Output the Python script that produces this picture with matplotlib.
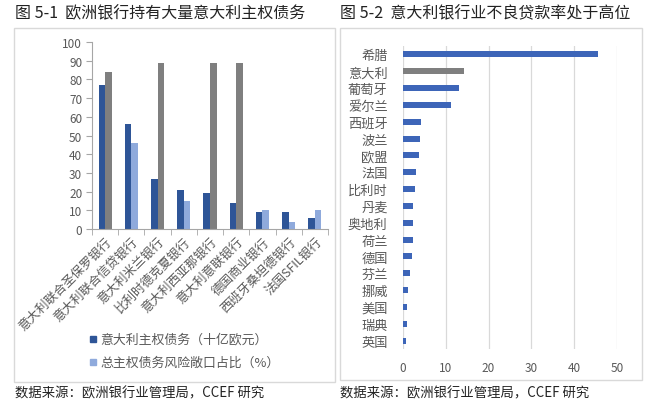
import numpy as np
import matplotlib
matplotlib.use("Agg")
import matplotlib.pyplot as plt
from matplotlib.patches import Rectangle

plt.rcParams['font.family'] = ['Noto Sans CJK SC', 'DejaVu Sans']

# === Data: left chart ===
banks = ['意大利联合圣保罗银行', '意大利联合信贷银行', '意大利米兰银行', '比利时德克夏银行',
         '意大利西亚那银行', '意大利意联银行', '德国商业银行', '西班牙桑坦德银行', '法国SFIL银行']
italy_debt = [77, 56, 27, 21, 19, 14, 9, 9, 6]
exposure_share = [84, 46, 89, 15, 89, 89, 10, 4, 10]
italian_bank = [True, False, True, False, True, True, False, False, False]

# === Data: right chart ===
countries = ['希腊', '意大利', '葡萄牙', '爱尔兰', '西班牙', '波兰', '欧盟', '法国', '比利时',
             '丹麦', '奥地利', '荷兰', '德国', '芬兰', '挪威', '美国', '瑞典', '英国']
npl_ratio = [45.6, 14.3, 13.2, 11.3, 4.3, 3.9, 3.7, 3.1, 2.9,
             2.4, 2.4, 2.3, 2.2, 1.6, 1.1, 1.0, 1.0, 0.7]

DARK = '#2E5597'
LIGHT = '#8FAADC'
GRAY = '#7F7F7F'
BLUE = '#3D65B8'
TXT = '#595959'

W, H = 650, 410
fig = plt.figure(figsize=(6.5, 4.1), dpi=100)
fig.patch.set_facecolor('white')


def px_axes(x0, y0, x1, y1):
    return fig.add_axes([x0 / W, 1 - y1 / H, (x1 - x0) / W, (y1 - y0) / H])


# panel frames
for x0, y0, x1, y1 in [(14, 29, 335, 383), (340, 29, 642, 381)]:
    fig.patches.append(Rectangle((x0 / W, 1 - y1 / H), (x1 - x0) / W, (y1 - y0) / H,
                                 transform=fig.transFigure, fill=False,
                                 edgecolor='#D9D9D9', lw=1))

# titles and sources
fig.text(15 / W, 1 - 14 / H, '图 5-1  欧洲银行持有大量意大利主权债务', fontsize=11.5,
         va='center', ha='left', color='#222222', fontweight='medium')
fig.text(340 / W, 1 - 14 / H, '图 5-2  意大利银行业不良贷款率处于高位',
         fontsize=11.5, va='center', ha='left', color='#222222', fontweight='medium')
for sx in (15, 340):
    fig.text(sx / W, 1 - 393 / H, '数据来源：欧洲银行业管理局，CCEF 研究', fontsize=9.6,
             va='center', ha='left', color='#222222')

# === Left chart ===
ax1 = px_axes(92, 43, 328, 230)
x = np.arange(len(banks))
bw = 0.25
ax1.bar(x - bw / 2, italy_debt, bw, color=DARK)
second_colors = [GRAY if it else LIGHT for it in italian_bank]
ax1.bar(x + bw / 2, exposure_share, bw, color=second_colors)
ax1.set_xlim(-0.5, len(banks) - 0.5)
ax1.set_ylim(0, 100)
ax1.set_yticks(range(0, 101, 10))
ax1.set_xticks(x)
ax1.set_xticklabels(banks, rotation=45, ha='right', va='top', rotation_mode='anchor',
                    fontsize=9, color=TXT)
ax1.set_xticks(np.arange(-0.5, len(banks)), minor=True)
ax1.tick_params(axis='x', which='major', length=0, pad=4)
ax1.tick_params(axis='x', which='minor', length=4, color='#A6A6A6')
ax1.tick_params(axis='y', length=4, color='#A6A6A6', labelsize=8.5, labelcolor=TXT, pad=3)
for s in ['top', 'right']:
    ax1.spines[s].set_visible(False)
for s in ['left', 'bottom']:
    ax1.spines[s].set_color('#A6A6A6')

# legend
for yy, col, lab in [(340, DARK, '意大利主权债务（十亿欧元）'),
                     (363, LIGHT, '总主权债务风险敞口占比（%）')]:
    fig.patches.append(Rectangle((90 / W, 1 - (yy + 3) / H), 6 / W, 6 / H,
                                 transform=fig.transFigure, color=col))
    fig.text(100 / W, 1 - yy / H, lab, fontsize=9.3, va='center', ha='left', color=TXT)

# === Right chart ===
ax2 = px_axes(403, 47, 617, 350)
y = np.arange(len(countries))
bar_colors = [GRAY if c == '意大利' else BLUE for c in countries]
ax2.barh(y, npl_ratio, height=0.35, color=bar_colors, zorder=3)
ax2.set_ylim(len(countries) - 0.5, -0.5)
ax2.set_xlim(0, 50)
ax2.set_xticks(range(0, 51, 10))
ax2.set_yticks(y)
ax2.set_yticklabels(countries, fontsize=9.5, color=TXT)
ax2.grid(axis='x', color='#D9D9D9', lw=0.9, zorder=0)
ax2.tick_params(length=0)
ax2.tick_params(axis='y', pad=11)
ax2.tick_params(axis='x', pad=9, labelsize=8.5, labelcolor=TXT)
for s in ax2.spines.values():
    s.set_visible(False)

fig.savefig('out.png', dpi=100, facecolor='white')
